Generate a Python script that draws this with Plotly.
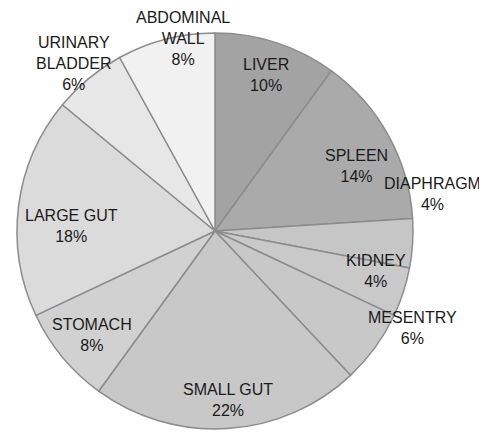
import plotly.graph_objects as go

# ---- data ----
organs = ["LIVER", "SPLEEN", "DIAPHRAGM", "KIDNEY", "MESENTRY",
          "SMALL GUT", "STOMACH", "LARGE GUT", "URINARY BLADDER", "ABDOMINAL WALL"]
percent = [10, 14, 4, 4, 6, 22, 8, 18, 6, 8]
label_text = ["LIVER", "SPLEEN", "DIAPHRAGM", "KIDNEY", "MESENTRY",
              "SMALL GUT", "STOMACH", "LARGE GUT", "URINARY<br>BLADDER", "ABDOMINAL<br>WALL"]

# ---- style ----
OFF = 8                      # page body margin the figure sits inside
W, H = 487 - OFF, 432 - OFF
colors = ["#a3a3a3", "#aaaaaa", "#c6c6c6", "#c9c9c9", "#c8c8c8",
          "#c8c8c8", "#d1d1d1", "#dbdbdb", "#e7e7e7", "#f1f1f1"]
# label block centres (screen pixels from top-left)
label_px = [(266, 75), (356, 166), (432, 194), (376, 271), (412, 328),
            (228, 400), (92, 335), (71, 226), (74, 63), (183, 38)]

cx, cy, R = 215 - OFF, 231 - OFF, 198

fig = go.Figure(go.Pie(
    labels=organs,
    values=percent,
    sort=False,
    direction="clockwise",
    rotation=0,
    textinfo="none",
    hoverinfo="label+percent",
    marker=dict(colors=colors, line=dict(color="#8c8c8c", width=1.5)),
    domain=dict(x=[(cx - R) / W, (cx + R) / W],
                y=[(H - cy - R) / H, (H - cy + R) / H]),
    showlegend=False,
))

for txt, v, (px, py) in zip(label_text, percent, label_px):
    fig.add_annotation(
        x=(px - OFF) / W, y=1 - (py - OFF) / H, xref="paper", yref="paper",
        text=f"{txt}<br>{v}%", showarrow=False,
        xanchor="center", yanchor="middle",
        font=dict(family="Liberation Sans, Arial, sans-serif", size=16, color="#1a1a1a"),
        align="center",
    )

fig.update_layout(
    width=W, height=H,
    margin=dict(l=0, r=0, t=0, b=0),
    paper_bgcolor="white", plot_bgcolor="white",
)

fig.write_html("out.html")
